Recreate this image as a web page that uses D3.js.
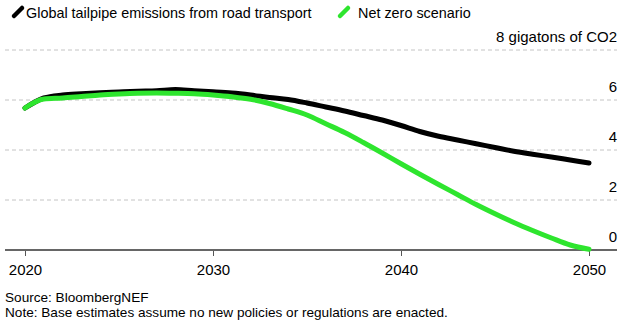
<!DOCTYPE html>
<html>
<head>
<meta charset="utf-8">
<script src="https://cdn.jsdelivr.net/npm/d3@7"></script>
<style>
  body { margin: 0; background: #fff; }
  text { font-family: "Liberation Sans", Arial, Helvetica, sans-serif; fill: #000; }
</style>
</head>
<body>
<figure id="chart" style="margin:0"></figure>
<script>
const years = d3.range(2020, 2051);
const baseline = [5.68, 6.08, 6.2, 6.25, 6.29, 6.32, 6.35, 6.37, 6.42, 6.37, 6.33,
  6.28, 6.2, 6.1, 6.02, 5.88, 5.72, 5.56, 5.38, 5.2, 4.98,
  4.74, 4.55, 4.4, 4.25, 4.1, 3.95, 3.83, 3.72, 3.6, 3.48];
const netZero = [5.68, 6.04, 6.08, 6.14, 6.2, 6.24, 6.27, 6.28, 6.27, 6.25, 6.2,
  6.13, 6.03, 5.86, 5.64, 5.4, 5.05, 4.7, 4.3, 3.88, 3.45,
  3.03, 2.62, 2.22, 1.82, 1.45, 1.1, 0.78, 0.48, 0.2, 0.03];
const xTicks = [2020, 2030, 2040, 2050];
const yTicks = [0, 2, 4, 6, 8];
const seriesNames = ["Global tailpipe emissions from road transport", "Net zero scenario"];
const colors = ["#000000", "#2ee52e"];

const width = 635, height = 330;

const svg = d3.select("figure#chart")
  .append("svg")
  .attr("width", width)
  .attr("height", height);

const x = d3.scaleLinear().domain([2020, 2050]).range([25, 589]);
const y = d3.scaleLinear().domain([0, 8]).range([250, 50]);

// Gridlines + right-side labels
yTicks.filter(d => d > 0).forEach(d => {
  svg.append("line")
    .attr("x1", 5).attr("x2", 617)
    .attr("y1", y(d)).attr("y2", y(d))
    .attr("stroke", "#c4c4c4")
    .attr("stroke-dasharray", "4,3");
});
svg.selectAll(".ylab")
  .data(yTicks)
  .enter()
  .append("text")
  .attr("x", 617)
  .attr("y", d => y(d) - 8)
  .attr("text-anchor", "end")
  .style("font-size", "15px")
  .text(d => d === 8 ? "8 gigatons of CO2" : d);

// X axis
const xAxis = svg.append("g")
  .attr("transform", "translate(0," + y(0) + ")")
  .call(d3.axisBottom(x).tickValues(xTicks).tickFormat(d3.format("d")).tickSize(6).tickPadding(8));
xAxis.select(".domain").remove();
xAxis.selectAll("line").attr("stroke", "#555");
xAxis.selectAll("text").style("font-size", "15px").attr("fill", "#000");
svg.append("line")
  .attr("x1", 5).attr("x2", 617)
  .attr("y1", y(0)).attr("y2", y(0))
  .attr("stroke", "#666")
  .attr("stroke-width", 2);

// Lines
const line = d3.line()
  .x((d, i) => x(years[i]))
  .y(d => y(d))
  .curve(d3.curveMonotoneX);

[baseline, netZero].forEach((s, i) => {
  svg.append("path")
    .datum(s)
    .attr("d", line)
    .attr("fill", "none")
    .attr("stroke", colors[i])
    .attr("stroke-width", 5)
    .attr("stroke-linecap", "round")
    .attr("stroke-linejoin", "round");
});

// Legend
const legendX = [14, 340];
const legendTextX = [26, 358];
seriesNames.forEach((name, i) => {
  svg.append("line")
    .attr("x1", legendX[i]).attr("y1", 16)
    .attr("x2", legendX[i] + 8).attr("y2", 8)
    .attr("stroke", colors[i])
    .attr("stroke-width", 4.5)
    .attr("stroke-linecap", "round");
  svg.append("text")
    .attr("x", legendTextX[i])
    .attr("y", 18)
    .style("font-size", "14.4px")
    .text(name);
});

// Source / note
svg.append("text")
  .attr("x", 5).attr("y", 302)
  .style("font-size", "13.6px")
  .text("Source: BloombergNEF");
svg.append("text")
  .attr("x", 5).attr("y", 317)
  .style("font-size", "13.6px")
  .text("Note: Base estimates assume no new policies or regulations are enacted.");
</script>
</body>
</html>
